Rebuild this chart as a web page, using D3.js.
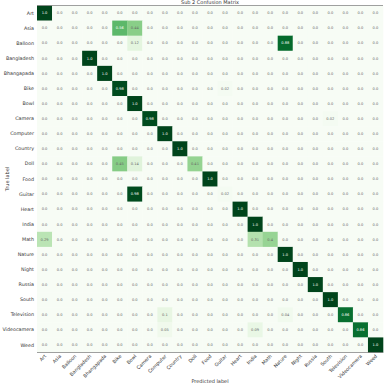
<!DOCTYPE html>
<html>
<head>
<meta charset="utf-8">
<script src="https://cdn.jsdelivr.net/npm/d3@7"></script>
<style>
  body { margin: 0; background: #fff; }
  text { font-family: "DejaVu Sans", sans-serif; }
</style>
</head>
<body>
<svg width="388" height="388"></svg>
<script>
// class names, same order for rows (true) and columns (predicted)
var labels = ["Art", "Asia", "Balloon", "Bangladesh", "Bhangapada", "Bike", "Bowl", "Camera",
  "Computer", "Country", "Doll", "Food", "Guitar", "Heart", "India", "Math", "Nature",
  "Night", "Russia", "South", "Television", "Videocamera", "Weed"];

// non-zero cells: [true, predicted, value]
var cells = [
  ["Art", "Art", 1.0],
  ["Asia", "Bike", 0.56], ["Asia", "Bowl", 0.44],
  ["Balloon", "Bowl", 0.12], ["Balloon", "Nature", 0.88],
  ["Bangladesh", "Bangladesh", 1.0],
  ["Bhangapada", "Bhangapada", 1.0],
  ["Bike", "Bike", 0.98], ["Bike", "Guitar", 0.02],
  ["Bowl", "Bowl", 1.0],
  ["Camera", "Camera", 0.98], ["Camera", "South", 0.02],
  ["Computer", "Computer", 1.0],
  ["Country", "Country", 1.0],
  ["Doll", "Bike", 0.45], ["Doll", "Bowl", 0.14], ["Doll", "Doll", 0.41],
  ["Food", "Food", 1.0],
  ["Guitar", "Bowl", 0.98], ["Guitar", "Guitar", 0.02],
  ["Heart", "Heart", 1.0],
  ["India", "India", 1.0],
  ["Math", "Art", 0.29], ["Math", "India", 0.31], ["Math", "Math", 0.4],
  ["Nature", "Nature", 1.0],
  ["Night", "Night", 1.0],
  ["Russia", "Russia", 1.0],
  ["South", "South", 1.0],
  ["Television", "Computer", 0.1], ["Television", "Nature", 0.04], ["Television", "Television", 0.86],
  ["Videocamera", "Computer", 0.05], ["Videocamera", "India", 0.09], ["Videocamera", "Videocamera", 0.86],
  ["Weed", "Weed", 1.0]
];

var svg = d3.select("svg"),
    margin = {top: 5.5, right: 5, bottom: 35.5, left: 37},
    width = +svg.attr("width") - margin.left - margin.right,
    height = +svg.attr("height") - margin.top - margin.bottom;

// build full matrix from the non-zero list
var lookup = {};
cells.forEach(function(c) { lookup[c[0] + "|" + c[1]] = c[2]; });
var matrix = [];
labels.forEach(function(t) {
  labels.forEach(function(p) {
    matrix.push({t: t, p: p, v: lookup[t + "|" + p] || 0});
  });
});

var x = d3.scaleBand().domain(labels).range([0, width]),
    y = d3.scaleBand().domain(labels).range([0, height]),
    color = d3.scaleSequential(d3.interpolateGreens).domain([0, 1]);

var g = svg.append("g")
    .attr("transform", "translate(" + margin.left + "," + margin.top + ")");

g.selectAll(".cell")
  .data(matrix)
  .enter().append("rect")
    .attr("class", "cell")
    .attr("x", function(d) { return x(d.p); })
    .attr("y", function(d) { return y(d.t); })
    .attr("width", x.bandwidth() + 0.3)
    .attr("height", y.bandwidth() + 0.3)
    .attr("fill", function(d) { return color(d.v); });

function fmt(v) {
  if (v === 0) return "0.0";
  if (v === 1) return "1.0";
  return String(v);
}

g.selectAll(".val")
  .data(matrix)
  .enter().append("text")
    .attr("class", "val")
    .attr("x", function(d) { return x(d.p) + x.bandwidth() / 2; })
    .attr("y", function(d) { return y(d.t) + y.bandwidth() / 2; })
    .attr("dy", "0.35em")
    .attr("text-anchor", "middle")
    .attr("font-size", 3.6)
    .attr("fill", function(d) { return d.v > 0.5 ? "#fff" : "#666"; })
    .text(function(d) { return fmt(d.v); });

// top and bottom spines
g.append("line").attr("x1", 0).attr("x2", width).attr("y1", 0).attr("y2", 0)
  .attr("stroke", "#888").attr("stroke-width", 0.8);
g.append("line").attr("x1", 0).attr("x2", width).attr("y1", height).attr("y2", height)
  .attr("stroke", "#888").attr("stroke-width", 0.8);

// row labels
g.append("g")
    .call(d3.axisLeft(y).tickSize(0).tickPadding(3))
    .call(function(a) { a.select(".domain").remove(); })
    .selectAll("text")
    .attr("font-size", 4.8)
    .attr("fill", "#333");

// column labels, rotated
g.append("g")
    .attr("transform", "translate(0," + height + ")")
    .call(d3.axisBottom(x).tickSize(0).tickPadding(0))
    .call(function(a) { a.select(".domain").remove(); })
    .selectAll("text")
    .attr("font-size", 4.8)
    .attr("fill", "#333")
    .attr("text-anchor", "end")
    .attr("dy", "0")
    .attr("transform", "translate(2,4) rotate(-45)");

svg.append("text")
    .attr("x", margin.left + width / 2)
    .attr("y", 4)
    .attr("text-anchor", "middle")
    .attr("font-size", 5)
    .attr("fill", "#333")
    .text("Sub 2 Confusion Matrix");

svg.append("text")
    .attr("x", margin.left + width / 2)
    .attr("y", 383)
    .attr("text-anchor", "middle")
    .attr("font-size", 5)
    .attr("fill", "#333")
    .text("Predicted label");

svg.append("text")
    .attr("transform", "translate(9," + (margin.top + height / 2) + ") rotate(-90)")
    .attr("text-anchor", "middle")
    .attr("font-size", 5)
    .attr("fill", "#333")
    .text("True label");
</script>
</body>
</html>
